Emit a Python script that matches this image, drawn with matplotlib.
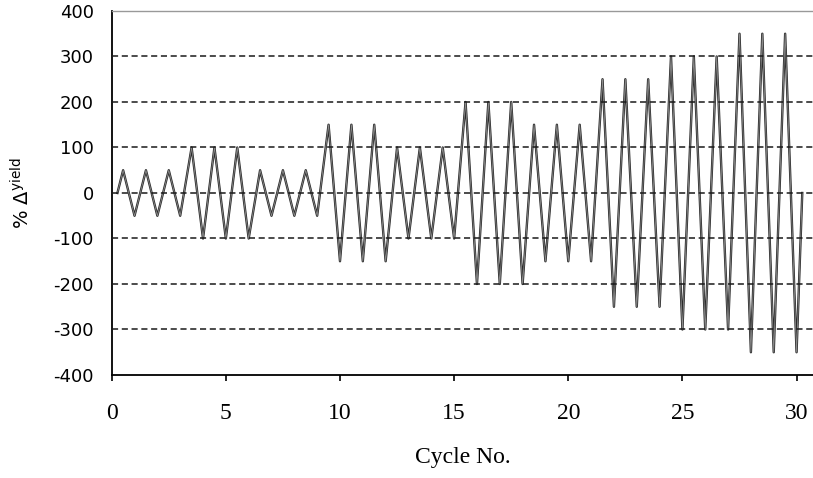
import numpy as np
import matplotlib
matplotlib.use('Agg')
import matplotlib.pyplot as plt

# loading protocol: drift level (% of yield) per group of 3 cycles
levels = [50, 100, 50, 150, 100, 200, 150, 250, 300, 350]
cycles_per_level = 3
grid_levels = [-300, -200, -100, 0, 100, 200, 300]
x_ticks = [0, 5, 10, 15, 20, 25, 30]
y_ticks = [-400, -300, -200, -100, 0, 100, 200, 300, 400]

amps = np.repeat(levels, cycles_per_level)
xs = [0.25]; ys = [0]
for n, a in enumerate(amps, start=1):
    xs += [n - 0.5, n]; ys += [a, -a]
xs.append(len(amps) + 0.25); ys.append(0)

fig = plt.figure(figsize=(8.13, 4.78), dpi=100)
ax = fig.add_axes([0.1374, 0.2155, 0.8626, 0.7615])

ax.plot(xs, ys, color='#2a2a2a', lw=1.7, zorder=2)
ax.plot(xs, ys, color='#8a8a8a', lw=0.6, zorder=3)
for g in grid_levels:
    ax.axhline(g, color='#1a1a1a', lw=1.1, linestyle=(0, (4, 2.4)), zorder=4)

ax.set_xlim(0, 30.72); ax.set_ylim(-400, 400)
ax.set_xticks(x_ticks); ax.set_yticks(y_ticks)
ax.set_xticklabels([str(t) for t in x_ticks], family='Liberation Serif', fontsize=17)
ax.set_yticklabels([str(t) for t in y_ticks], family='DejaVu Sans', fontsize=13)
ax.tick_params(axis='x', direction='out', length=4.5, width=1.2, pad=16)
ax.tick_params(axis='y', length=0, pad=13)

ax.spines['right'].set_visible(False)
ax.spines['top'].set_color('#999999'); ax.spines['top'].set_linewidth(1.0)
ax.spines['left'].set_linewidth(1.3); ax.spines['bottom'].set_linewidth(1.3)

ax.set_xlabel('Cycle No.', family='Liberation Serif', fontsize=17, labelpad=16)
ax.set_ylabel(r'% $\Delta^{\mathrm{yield}}$', family='DejaVu Sans', fontsize=14, labelpad=14)

fig.savefig('out.png', dpi=100)
